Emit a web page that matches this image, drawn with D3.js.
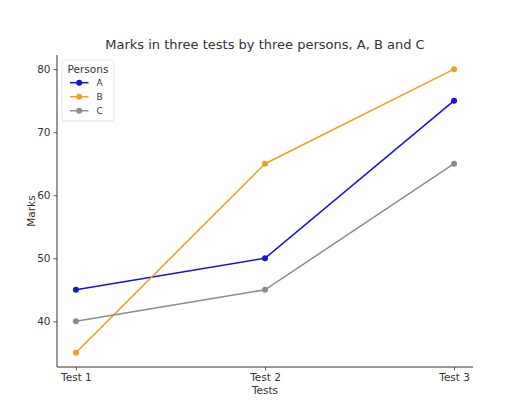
<!DOCTYPE html>
<html><head><meta charset="utf-8">
<script src="https://cdn.jsdelivr.net/npm/d3@7"></script>
<style>body{margin:0;background:#fff}svg{display:block;font-family:"DejaVu Sans",sans-serif}</style>
</head><body><svg id="c" width="514" height="417"></svg>
<script>
const categories = ["Test 1","Test 2","Test 3"];
const seriesNames = ["A","B","C"];
const valuesA = [45,50,75];
const valuesB = [35,65,80];
const valuesC = [40,45,65];
const yTicks = [40,50,60,70,80];
const colors = ["#1414d2","#f0a020","#8c8c8c"];

const series = [valuesA,valuesB,valuesC].map((v,i)=>({name:seriesNames[i],values:v,color:colors[i]}));
const svg = d3.select("#c");
const L=57,R=473,T=55,B=367;
const x = d3.scaleLinear().domain([-0.1,2.1]).range([L,R]);
const y = d3.scaleLinear().domain([32.75,82.25]).range([B,T]);
const txt="#333";
const FONT='"DejaVu Sans",sans-serif';

svg.append("text").attr("x",(L+R)/2).attr("y",49).attr("text-anchor","middle")
  .attr("font-size",13).attr("fill",txt).text("Marks in three tests by three persons, A, B and C");

const xa = svg.append("g").attr("transform",`translate(0,${B})`)
  .call(d3.axisBottom(x).tickValues([0,1,2]).tickFormat(i=>categories[i]).tickSizeOuter(0).tickSize(3.5).tickPadding(3));
const ya = svg.append("g").attr("transform",`translate(${L},0)`)
  .call(d3.axisLeft(y).tickValues(yTicks).tickSizeOuter(0).tickSize(3.5).tickPadding(3));
[xa,ya].forEach(a=>{
  a.attr("font-family",FONT).attr("font-size",10.5);
  a.select(".domain").remove();
  a.selectAll(".tick line").attr("stroke",txt).attr("stroke-width",0.8);
  a.selectAll(".tick text").attr("fill",txt);
});
svg.append("line").attr("x1",L).attr("x2",R).attr("y1",B).attr("y2",B).attr("stroke",txt).attr("stroke-width",1);
svg.append("line").attr("x1",L).attr("x2",L).attr("y1",T).attr("y2",B).attr("stroke",txt).attr("stroke-width",1);

svg.append("text").attr("x",(L+R)/2).attr("y",394).attr("text-anchor","middle")
  .attr("font-size",10.5).attr("fill",txt).text("Tests");
svg.append("text").attr("transform",`translate(35,${(T+B)/2}) rotate(-90)`).attr("text-anchor","middle")
  .attr("font-size",10.5).attr("fill",txt).text("Marks");

const line = d3.line().x((d,i)=>x(i)).y(d=>y(d));
series.forEach(s=>{
  svg.append("path").attr("d",line(s.values)).attr("fill","none").attr("stroke",s.color).attr("stroke-width",1.5);
  svg.selectAll(null).data(s.values).enter().append("circle")
    .attr("cx",(d,i)=>x(i)).attr("cy",d=>y(d)).attr("r",3).attr("fill",s.color);
});

// legend
const lg = svg.append("g").attr("transform","translate(62,60)");
lg.append("rect").attr("width",52).attr("height",61).attr("rx",2).attr("fill","#fff").attr("fill-opacity",0.8)
  .attr("stroke","#ddd").attr("stroke-width",0.8);
lg.append("text").attr("x",26).attr("y",12.5).attr("text-anchor","middle").attr("font-size",10.5).attr("fill",txt).text("Persons");
series.forEach((s,i)=>{
  const yy = 22.7 + i*14;
  lg.append("line").attr("x1",8).attr("x2",26.5).attr("y1",yy).attr("y2",yy).attr("stroke",s.color).attr("stroke-width",1.5);
  lg.append("circle").attr("cx",17.2).attr("cy",yy).attr("r",3).attr("fill",s.color);
  lg.append("text").attr("x",34.5).attr("y",yy+3.2).attr("font-size",9).attr("fill",txt).text(s.name);
});
</script></body></html>
